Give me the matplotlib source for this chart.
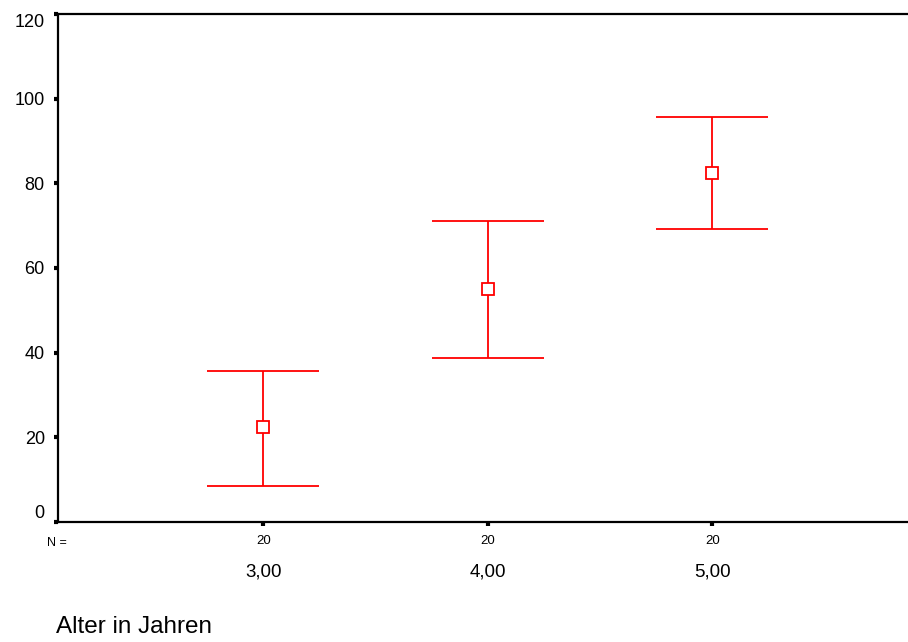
import numpy as np
import matplotlib.pyplot as plt

plt.rcParams['font.family'] = ['Liberation Sans', 'DejaVu Sans']

# data
categories = ['3,00', '4,00', '5,00']
n_counts = [20, 20, 20]
means = [22.4, 55.0, 82.4]
upper = [35.7, 71.1, 95.7]
lower = [8.5, 38.7, 69.2]
y_ticks = [0, 20, 40, 60, 80, 100, 120]


def main():
    fig = plt.figure(figsize=(9.08, 6.42), dpi=100)
    ax = fig.add_axes([58 / 908, 1 - 522 / 642, 1 - 58 / 908 + 0.002, (522 - 14) / 642])

    x = np.arange(1, len(categories) + 1)
    m = np.array(means)
    yerr = [m - np.array(lower), np.array(upper) - m]

    ax.errorbar(x, m, yerr=yerr, fmt='s', color='#ff0000', ecolor='#ff0000',
                elinewidth=1.3, capsize=40.5, capthick=1.3,
                markerfacecolor='white', markeredgecolor='#ff0000',
                markersize=8, markeredgewidth=1.3, zorder=3)

    x0 = 1 - 205 / 224
    ax.set_xlim(x0, x0 + 850 / 224)
    ax.set_ylim(0, 120)
    ax.set_yticks(y_ticks)
    ax.set_yticklabels([str(t) for t in y_ticks], fontsize=13)
    ax.set_xticks(x)
    ax.set_xticklabels([])

    ax.spines['right'].set_visible(False)
    for s in ['left', 'top', 'bottom']:
        ax.spines[s].set_linewidth(1.6)
    ax.tick_params(axis='both', direction='out', length=3, width=3, pad=6.5)
    labs = ax.get_yticklabels()
    labs[0].set_verticalalignment('bottom')
    labs[-1].set_verticalalignment('top')

    # N = row and category labels
    ax.text(x0 + 9 / 224, -4.9, 'N =', fontsize=9, ha='right', va='center', clip_on=False)
    for xi, n, cat in zip(x, n_counts, categories):
        ax.text(xi, -4.6, str(n), fontsize=9.5, ha='center', va='center', clip_on=False)
        ax.text(xi, -11.8, cat, fontsize=13.5, ha='center', va='center', clip_on=False)

    fig.text(56 / 908, 1 - 627 / 642, 'Alter in Jahren', fontsize=17.5,
             ha='left', va='center')

    fig.savefig('out.png', dpi=100)


if __name__ == "__main__":
    main()
